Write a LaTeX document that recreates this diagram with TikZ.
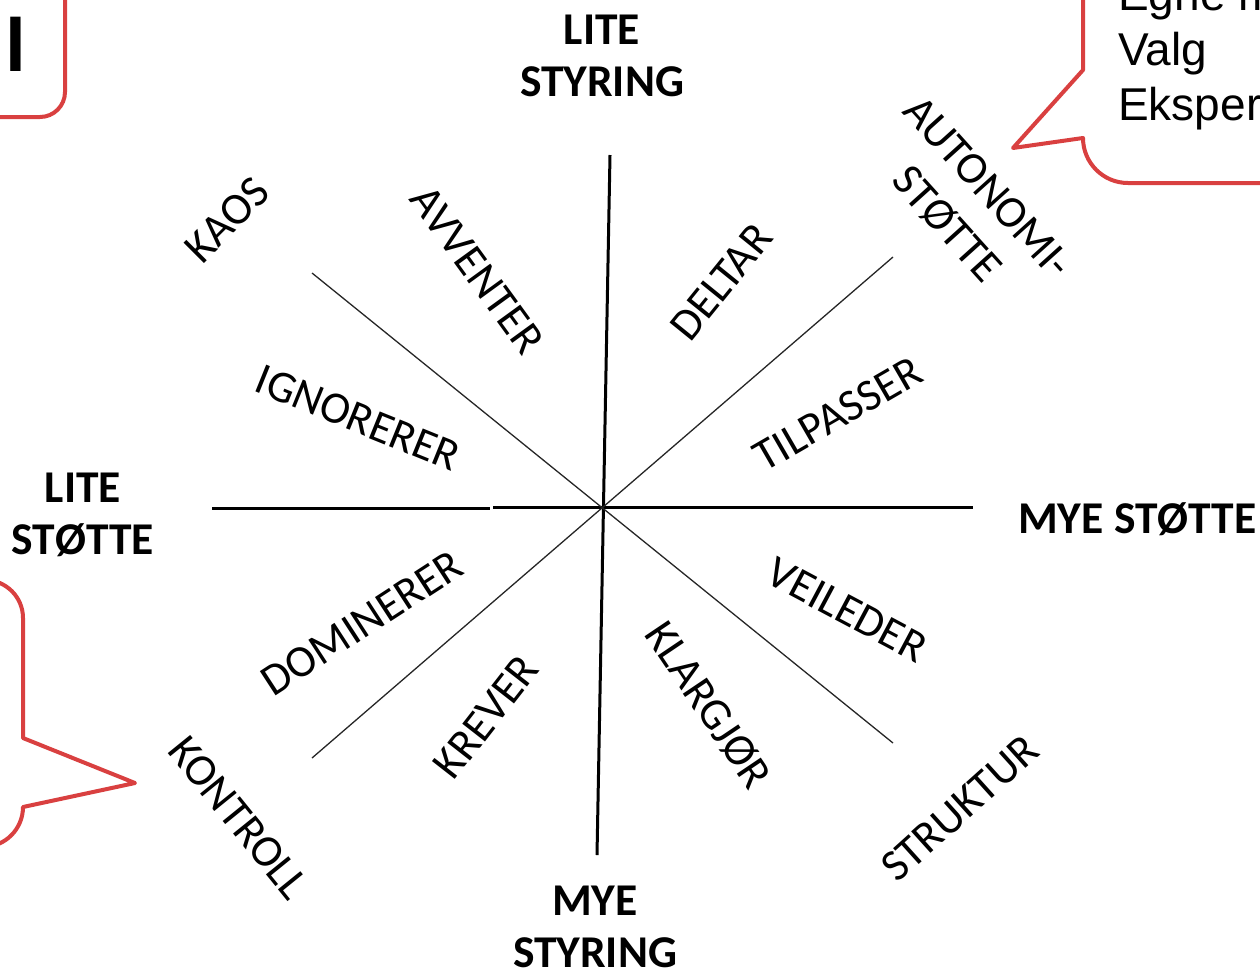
\documentclass[tikz,border=0pt]{standalone}
\usepackage{fontspec}
\setmainfont{Carlito}
\newfontfamily\arialfont{Liberation Sans}
\definecolor{callred}{RGB}{217,64,64}
\begin{document}
\begin{tikzpicture}[x=1pt,y=-1pt,
  axis/.style={line width=3pt,black},
  diag/.style={line width=1.3pt,black!85},
  lab/.style={inner sep=0pt,font=\fontsize{45}{52}\selectfont},
  blab/.style={inner sep=0pt,align=center,font=\fontsize{45.5}{52}\selectfont\bfseries},
  callout/.style={draw=callred,line width=4pt,line join=round,fill=white},
  ctext/.style={inner sep=0pt,anchor=base west,font=\arialfont\fontsize{46}{55}\selectfont}]
\useasboundingbox (0,0) rectangle (1260,970);
\clip (0,0) rectangle (1260,970);
% callouts
\draw[callout] (-40,-40) -- (65,-40) -- (65,92) arc[start angle=0,end angle=90,radius=25] -- (-40,117) -- cycle;
\node[inner sep=0pt,anchor=base east,font=\arialfont\bfseries\fontsize{75}{80}\selectfont] (il) at (26.5,71) {il};
\draw[callout] (1083,-40) -- (1083,70) -- (1013,148) -- (1083,138) arc[start angle=180,end angle=90,radius=45] -- (1300,183) -- (1300,-40) -- cycle;
\node[ctext] (t1) at (1118,10) {Egne m};
\node[ctext] (t2) at (1118,65) {Valg};
\node[ctext] (t3) at (1118,120) {Eksper};
\draw[callout] (-40,580) -- (-15,580) arc[start angle=-90,end angle=0,radius=38] -- (23,738) -- (135,783) -- (23,807) arc[start angle=0,end angle=90,radius=40] -- (-40,847) -- cycle;
% axes
\coordinate (vt) at (610,155);
\coordinate (vb) at (597,855);
\coordinate (hl) at (212,508);
\coordinate (hg1) at (490,508);
\coordinate (hg2) at (493,507);
\coordinate (hr) at (973,507);
\coordinate (d1a) at (312,273);
\coordinate (d1b) at (893,743);
\coordinate (d2a) at (893,257);
\coordinate (d2b) at (312,758);
\draw[axis] (vt) -- (vb);
\draw[axis] (hl) -- (hg1);
\draw[axis] (hg2) -- (hr);
\draw[diag] (d1a) -- (d1b);
\draw[diag] (d2a) -- (d2b);
% axis labels
\node[blab] (ls) at (602,56) {LITE\\STYRING};
\node[blab] (lst) at (83,515) {LITE\\STØTTE};
\node[blab,anchor=west] (mst) at (1018,519) {MYE STØTTE};
\node[blab] (ms) at (595,927) {MYE\\STYRING};
% sector labels
\node[lab,rotate=45] (kaos) at (227,220) {KAOS};
\node[lab,rotate=-54] (avv) at (477,270) {AVVENTER};
\node[lab,rotate=-22] (ign) at (358,418) {IGNORERER};
\node[lab,rotate=51] (del) at (721,282) {DELTAR};
\node[lab,rotate=-48,align=center,font=\fontsize{45}{55}\selectfont] (aut) at (967,206) {AUTONOMI-\\STØTTE};
\node[lab,rotate=30] (til) at (838,414) {TILPASSER};
\node[lab,rotate=33] (dom) at (362,623) {DOMINERER};
\node[lab,rotate=52] (kre) at (486,717) {KREVER};
\node[lab,rotate=-51] (kon) at (239,818) {KONTROLL};
\node[lab,rotate=-28] (vei) at (847,610) {VEILEDER};
\node[lab,rotate=-56] (kla) at (708,705) {KLARGJØR};
\node[lab,rotate=42] (str) at (960,808) {STRUKTUR};
\end{tikzpicture}
\end{document}
